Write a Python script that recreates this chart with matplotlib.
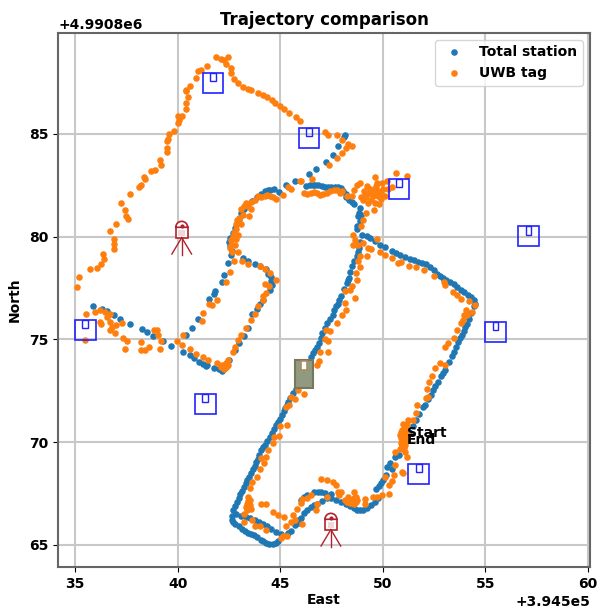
import numpy as np
import matplotlib
matplotlib.use("Agg")
import matplotlib.pyplot as plt
from matplotlib.patches import Rectangle, Wedge

X0 = 394500
Y0 = 4990800

# (east, north), relative to the axis offsets
total_station = [
    (50.2,68.8),(50.35,69.0),(50.45,68.7),(50.6,69.3),(50.8,69.4),(50.95,69.8),(51.1,70.0),(51.3,70.5),(51.45,70.8),(51.6,71.1),
    (51.75,71.35),(51.95,71.7),(52.05,71.8),(52.2,72.1),(52.35,72.3),(52.45,72.55),(52.55,72.75),(52.7,72.95),(52.85,73.2),(52.95,73.35),
    (53.05,73.5),(53.25,73.9),(53.35,74.2),(53.45,74.4),(53.55,74.65),(53.65,74.85),(53.75,75.05),(53.85,75.2),(53.95,75.4),(54.0,75.6),
    (54.1,75.75),(54.2,76.0),(54.3,76.3),(54.45,76.6),(54.5,76.7),(54.43,76.93),(54.14,77.18),(53.8,77.4),(53.45,77.7),(53.1,77.9),
    (52.8,78.1),(52.5,78.35),(52.1,78.65),(51.7,78.75),(51.35,78.9),(50.85,79.1),(50.45,79.3),(50.1,79.5),(49.85,79.6),(49.25,80.05),
    (49.0,80.1),(48.75,80.35),(48.75,80.5),(48.9,80.75),(48.85,81.15),(48.95,81.05),(48.8,81.0),(48.9,81.4),(48.6,81.6),(48.35,81.8),
    (48.2,82.05),(47.95,82.35),(47.65,82.4),(47.35,82.4),(47.05,82.45),(46.7,82.5),(46.45,82.5),(48.15,84.95),(48.1,84.85),(47.8,84.4),
    (47.55,83.95),(47.25,83.65),(46.75,83.3),(46.4,83.05),(45.7,82.7),(45.3,82.5),(44.7,82.3),(44.5,82.25),(44.25,82.2),(44.05,82.05),
    (43.85,81.9),(43.4,81.55),(43.1,81.15),(42.95,80.65),(42.8,80.4),(42.55,79.95),(42.55,79.55),(42.6,79.1),(42.45,78.7),(42.25,78.15),
    (42.15,77.8),(41.8,77.35),(41.55,76.95),(41.0,76.0),(40.7,75.55),(40.4,75.2),(40.25,74.4),(40.6,74.25),(41.05,73.9),(41.45,73.75),
    (42.0,73.55),(42.15,73.45),(35.9,76.6),(36.3,76.5),(36.55,76.4),(36.9,76.2),(37.2,76.0),(37.7,75.75),(38.25,75.5),(38.5,75.35),
    (38.8,75.15),(39.3,74.9),(39.7,74.7),(43.25,75.15),(42.8,74.5),(43.65,76.25),(44.15,76.9),(44.55,78.05),(44.6,77.65),(44.5,77.4),
    (44.3,78.4),(43.75,78.65),(43.2,78.95),(42.7,66.7),(42.9,67.1),(43.05,67.5),(43.25,67.8),(43.4,68.15),(43.6,68.5),(43.75,68.85),
    (43.9,69.2),(44.05,69.6),(44.25,69.85),(44.5,70.25),(44.7,70.65),(44.9,71.0),(45.1,71.3),(45.25,71.65),(45.4,71.95),(45.6,72.4),
    (46.5,74.15),(46.7,74.5),(46.9,74.8),(47.05,75.3),(47.3,75.8),(47.55,76.2),(47.6,76.45),(47.8,76.7),(47.95,77.1),(48.25,77.75),
    (48.35,78.0),(48.5,78.55),(48.75,79.05),(48.85,79.45),(42.65,66.2),(42.8,66.0),(43.0,65.9),(43.3,65.7),(43.6,65.55),(43.85,65.4),
    (44.05,65.25),(44.3,65.1),(44.65,65.05),(44.9,65.2),(42.85,66.5),(43.35,66.35),(43.75,66.2),(44.15,66.0),(44.55,65.8),(45.05,65.55),
    (45.55,65.7),(45.85,66.2),(45.85,66.05),(46.15,66.55),(46.5,66.85),(46.8,67.0),(47.3,67.3),(47.7,67.2),(48.2,67.0),(48.6,66.8),
    (48.9,66.7),(49.25,66.8),(49.6,67.1),(49.8,67.85),(49.65,67.7),(50.0,68.15),(50.15,68.4),(46.0,67.2),(46.3,67.45),(46.65,67.6),
    (47.0,67.6),
    # second pass over the picture, dots between the ones above
    (42.8,66.9),(42.97,67.3),(43.15,67.65),(43.33,68.0),(43.5,68.3),(43.68,68.7),(43.83,69.05),(43.98,69.4),(44.15,69.75),(44.38,70.05),
    (44.6,70.45),(44.8,70.85),(45.0,71.15),(45.18,71.5),(45.33,71.8),(45.5,72.15),(45.75,72.6),(46.6,74.35),(46.8,74.65),(46.97,75.05),
    (47.18,75.55),(47.42,76.0),(47.7,76.6),(47.88,76.9),(48.1,77.45),(48.3,77.9),(48.42,78.3),(48.62,78.8),(48.8,79.25),(48.9,79.75),
    (54.3,77.05),(53.95,77.3),(53.6,77.55),(53.3,77.8),(52.95,78.0),(52.65,78.2),(52.3,78.5),(51.9,78.7),(51.5,78.85),(51.1,79.0),
    (50.65,79.2),(49.6,79.8),(49.4,79.95),(42.65,66.4),(42.7,66.1),(43.15,65.8),(43.45,65.6),(43.7,65.5),(44.15,65.2),(44.45,65.05),
    (44.8,65.1),(43.1,66.4),(43.55,66.3),(43.95,66.1),(44.35,65.9),(44.8,65.65),(45.4,65.6),(45.7,65.95),(46.0,66.3),(46.3,66.7),
    (46.65,66.95),(47.05,67.15),(47.5,67.3),(47.95,67.1),(48.4,66.9),(48.75,66.7),(49.05,66.7),(49.45,66.95),(49.75,67.3),(49.9,68.0),
    (46.15,67.35),(46.85,67.6),(47.2,67.55),(47.5,67.5),(48.5,81.7),(48.2,81.9),(48.05,82.2),(47.8,82.4),(47.5,82.4),(47.2,82.4),
    (46.85,82.5),(46.6,82.5),(46.25,82.45),(44.95,82.15),(44.4,82.25),(43.65,81.75),(43.25,81.35),(43.0,80.85),(42.7,80.15),(42.5,79.75),
    (42.65,79.3),(41.75,77.2),(40.8,74.1),(41.25,73.8),(41.75,73.6),(41.4,73.7),(43.0,74.8),(43.45,75.55),(43.85,76.5),(44.0,76.7),
    (42.5,74.0),(42.3,73.7),(44.0,78.55),(44.4,78.2),(44.55,77.85),(43.45,78.8),
]

uwb_tag = [
    (35.1,77.55),(35.2,78.05),(35.75,78.4),(36.05,78.45),(36.25,78.65),(36.4,78.9),(36.35,79.15),(36.9,79.4),(36.9,79.65),(36.9,79.9),
    (36.7,80.25),(37.0,80.6),(37.6,80.85),(37.5,81.0),(37.45,81.3),(37.25,81.65),(37.7,82.05),(38.1,82.4),(38.2,82.5),(38.4,82.8),
    (38.35,82.9),(38.7,83.2),(38.9,83.25),(39.2,83.5),(39.15,83.7),(39.5,84.1),(39.5,84.3),(39.5,84.65),(39.55,84.75),(39.6,85.0),
    (39.8,85.15),(40.0,85.5),(40.05,85.65),(40.0,85.85),(40.2,85.85),(40.4,86.2),(40.4,86.5),(40.5,86.8),(40.4,87.1),(40.4,87.15),
    (40.6,87.3),(40.9,87.7),(41.0,88.05),(41.15,88.1),(41.45,88.3),(41.85,88.75),(42.1,88.65),(42.25,88.6),(42.45,88.75),(42.35,88.4),
    (42.6,88.2),(42.6,87.95),(42.75,87.65),(42.95,87.45),(43.2,87.25),(43.45,87.2),(43.6,87.15),(43.9,87.0),(44.15,86.9),(44.35,86.8),
    (44.6,86.65),(44.75,86.5),(45.0,86.35),(45.2,86.2),(45.45,86.0),(45.75,85.8),(45.95,85.6),(47.2,85.1),(47.35,84.95),(47.75,84.95),
    (48.0,84.7),(48.3,84.5),(48.5,84.4),(48.2,84.3),(48.0,84.05),(47.75,83.8),(47.4,83.5),(46.55,82.8),(46.0,82.7),
    (46.15,82.1),(46.5,82.1),(46.8,82.1),(47.1,82.05),(47.45,82.2),(47.75,82.25),(48.0,82.2),(48.25,81.95),(48.5,81.95),(48.6,82.25),
    (48.75,82.5),(48.9,82.6),(49.25,82.45),(49.6,82.9),(50.65,83.1),(51.2,82.95),(49.35,82.1),(49.5,81.95),(49.75,82.2),(50.0,82.3),
    (50.1,81.95),(49.95,82.6),(50.2,82.7),(49.05,81.8),(49.3,81.65),(49.6,81.65),(49.55,81.3),(49.2,81.15),(49.05,80.8),(48.95,80.5),
    (48.55,80.1),(48.65,79.85),(48.55,79.6),(48.8,79.6),(49.05,79.7),(49.3,79.45),(49.7,79.9),(49.45,79.4),(49.85,79.25),(50.1,79.1),
    (50.45,78.95),(50.75,78.7),(50.9,78.75),(51.3,78.55),(51.6,78.5),(52.0,78.35),(52.5,78.1),(53.0,77.8),(53.05,77.65),(53.4,77.3),
    (53.6,77.15),(48.9,79.05),(49.25,79.05),(48.8,78.8),(48.9,78.5),(48.7,78.25),(48.75,77.9),(48.5,77.6),(48.4,77.4),(48.15,77.35),
    (49.1,82.2),(48.95,81.9),(49.2,81.9),(49.4,82.3),(49.65,82.45),(49.9,81.85),(50.25,82.3),(49.8,81.6),(49.7,82.6),(50.45,82.4),
    (45.95,82.7),(45.55,82.3),(45.4,82.4),(45.15,82.0),(44.8,81.85),(44.5,81.95),(44.25,81.95),(43.9,81.95),(43.6,81.7),(43.35,81.65),
    (43.6,81.35),(43.1,81.35),(43.2,81.05),(43.5,81.0),(42.85,80.6),(42.85,80.35),(43.1,80.6),(42.95,80.1),(42.7,80.0),(42.6,79.6),
    (42.8,79.6),(42.65,79.25),(42.95,79.25),(42.75,78.8),(43.15,78.8),(43.45,78.65),(44.0,78.55),(44.25,78.4),(44.5,78.25),(44.8,77.9),
    (44.25,77.7),(44.45,77.6),(44.3,77.25),(44.15,77.1),(42.55,78.3),(42.35,77.8),
    (41.9,76.9),(41.55,76.7),(41.7,76.65),(41.25,76.3),(41.2,75.9),(44.15,76.9),(43.9,76.6),(43.75,76.25),(43.6,75.95),(43.35,75.55),
    (43.1,75.2),(42.95,74.95),(42.8,74.65),(42.7,74.4),(42.45,74.0),(42.35,73.65),(42.3,73.6),(42.15,73.75),(41.9,73.85),(41.5,74.0),
    (41.25,74.15),(40.9,74.3),(40.6,74.55),(40.25,75.2),(40.2,74.75),(39.95,74.9),(35.55,76.25),(35.95,76.35),(36.2,76.45),(36.45,76.35),
    (36.7,76.25),(36.55,76.1),(36.2,75.85),(36.25,75.75),(36.7,75.85),(36.8,75.6),(36.7,75.45),(36.95,75.3),(37.0,75.7),(37.3,75.8),
    (37.35,75.05),(37.55,74.9),(37.45,74.55),(38.2,74.85),(38.2,74.5),(38.4,74.5),(38.6,74.65),(38.85,75.45),(39.0,75.45),(39.05,75.2),
    (39.2,74.9),(39.15,74.55),(35.5,74.95),
    (45.35,70.85),(45.0,70.8),(44.95,70.3),(44.7,70.25),(44.65,69.95),(44.4,69.6),(44.3,69.3),(44.05,69.25),(44.2,69.0),(44.0,68.7),
    (43.85,68.3),(43.65,68.05),(43.55,67.75),(43.45,67.35),(43.5,67.0),(43.35,66.85),(43.6,66.75),(43.25,66.5),(44.05,67.0),(44.3,67.0),
    (44.65,66.6),(44.9,66.45),(45.2,66.35),(45.6,66.45),(45.8,66.75),(45.55,66.1),(45.7,66.2),(45.3,65.9),(45.15,65.45),(45.05,65.35),
    (45.35,65.45),(44.3,65.75),(44.0,65.9),(43.75,65.9),(43.65,66.2),(43.25,66.1),(45.55,72.2),(45.3,71.7),(45.45,71.8),(45.7,72.1),
    (45.85,72.55),(46.15,72.35),(46.8,73.75),(46.9,73.95),(46.95,74.4),(47.35,74.4),(47.2,75.0),(47.35,74.9),(47.25,75.45),(47.45,75.4),
    (47.75,75.8),(48.0,76.2),(48.2,76.45),(48.15,76.75),(48.65,77.0),
    (51.0,68.5),(50.95,68.55),(51.2,69.3),(51.1,69.5),(50.6,68.9),(50.55,68.4),(50.1,68.3),(50.45,68.1),(50.3,67.9),(50.3,67.5),
    (49.95,67.45),(49.7,67.35),(49.5,67.35),(49.15,67.25),(49.15,67.0),(51.0,70.4),(50.9,70.2),(51.05,70.0),(50.95,69.8),(51.1,70.2),
    (50.9,69.95),(51.2,70.45),(50.95,70.6),(51.1,70.75),(51.2,70.9),(50.85,70.35),(51.05,70.5),(51.15,70.1),(51.0,70.9),(51.1,69.85),
    (50.85,69.65),(50.6,69.5),(51.45,71.1),(51.25,71.1),(51.6,71.4),(51.65,71.8),(52.1,72.15),(52.2,72.2),(52.15,72.6),(52.25,72.95),
    (52.4,73.2),(52.55,73.6),(52.8,73.85),(53.05,73.75),(53.05,74.65),(53.2,74.8),(53.45,75.05),(53.6,75.45),(53.8,75.8),(53.9,75.95),
    (53.95,76.2),(54.1,76.2),(54.05,76.45),(54.35,76.35),(54.5,76.65),(53.8,76.95),(54.2,76.85),
    (47.0,68.2),(47.3,68.15),(47.55,68.05),(47.7,67.9),(47.8,67.6),(47.95,67.6),(47.85,67.45),(47.3,67.35),(46.8,67.0),(46.75,66.7),
    (46.05,67.25),(46.0,67.05),(46.3,67.3),(46.5,67.45),(46.05,66.0),(48.15,67.2),(48.3,67.35),(48.6,67.6),(48.4,67.05),(48.75,67.2),
    (48.6,67.3),(48.6,67.0),(48.35,67.25),(48.7,67.35),
    # second pass, the crowded places
    (46.3,82.05),(46.65,82.15),(46.95,82.0),(47.3,82.1),(47.6,82.25),(47.9,82.1),(44.65,81.9),(44.35,82.0),(44.05,81.9),(43.75,81.8),
    (43.45,81.5),(43.25,81.5),(49.45,81.8),(49.5,82.1),(49.75,81.95),(49.9,82.1),(49.6,82.3),(49.15,82.0),(43.0,80.9),(42.9,80.8),
    (42.85,79.9),(42.75,80.15),(42.6,79.85),(42.55,79.45),(42.4,73.7),(42.25,73.55),(42.35,73.85),(42.45,73.75),(42.1,73.65),(43.45,67.15),
    (43.55,67.2),(43.4,67.0),(43.55,66.95),(43.4,66.7),(43.5,66.8),(48.4,67.15),(48.5,67.2),(48.6,67.15),(48.25,67.1),(48.5,67.05),
    (48.7,67.1),(51.05,70.25),(50.95,70.3),(51.0,70.15),(51.1,70.4),(50.9,70.5),(51.05,69.7),(50.95,70.05),
]

anchors = [(41.72,87.45),(46.4,84.8),(50.8,82.3),(57.1,80.0),(55.5,75.35),(51.75,68.45),(35.5,75.45),(41.35,71.85)]
stations = [(40.2,79.95),(47.47,65.75)]
start_pos = (51.2,70.25)
end_pos = (51.15,69.9)

plt.rcParams["font.weight"] = "bold"
plt.rcParams["axes.titleweight"] = "bold"
plt.rcParams["axes.labelweight"] = "bold"
plt.rcParams["font.size"] = 10

fig = plt.figure(figsize=(5.97, 6.09), dpi=100)
ax = fig.add_axes([58/597, 1-567/609, 532/597, 534/609])

total = np.array(total_station) + [X0, Y0]
uwb = np.array(uwb_tag) + [X0, Y0]
ax.plot(total[:, 0], total[:, 1], "o", ms=3.7, color="#1f77b4", label="Total station", zorder=3)
ax.plot(uwb[:, 0], uwb[:, 1], "o", ms=3.7, color="#ff7f0e", label="UWB tag", zorder=3)


def box(x, y, edge):
    # anchor symbol, a square with a small notch at the top
    ax.add_patch(Rectangle((X0+x-0.5, Y0+y-0.48), 1.0, 0.97, fc="none", ec=edge, lw=1.2, zorder=4))
    ax.add_patch(Rectangle((X0+x-0.14, Y0+y+0.1), 0.28, 0.39, fc="none", ec=edge, lw=1.0, zorder=4))


for a in anchors:
    box(a[0], a[1], "#2222ff")

# the tag base, filled box
ax.add_patch(Rectangle((X0+45.7, Y0+72.65), 0.9, 1.35, fc="#8f9a80", ec="#77775f", lw=1.5, zorder=5))
ax.add_patch(Rectangle((X0+46.0, Y0+73.5), 0.32, 0.47, fc="white", ec="#b08a60", lw=1.2, zorder=6))

for s in stations:
    x = X0+s[0]
    y = Y0+s[1]
    red = "#b2222c"
    ax.add_patch(Rectangle((x-0.29, y), 0.58, 0.5, fc="white", ec=red, lw=1.2, zorder=4))
    ax.add_patch(Wedge((x, y+0.5), 0.29, 0, 180, fc="white", ec=red, lw=1.2, zorder=4))
    ax.add_patch(Rectangle((x-0.16, y+0.1), 0.32, 0.25, fc="#f0d8d8", ec="none", zorder=5))
    ax.plot([x], [y+0.55], "o", ms=2, color=red, zorder=5)
    ax.plot([x, x], [y, y-0.85], color=red, lw=1.0, zorder=4)
    ax.plot([x, x-0.48], [y, y-0.8], color=red, lw=1.0, zorder=4)
    ax.plot([x, x+0.48], [y, y-0.8], color=red, lw=1.0, zorder=4)

ax.text(X0+start_pos[0], Y0+start_pos[1], "Start", fontsize=10, zorder=7)
ax.text(X0+end_pos[0], Y0+end_pos[1], "End", fontsize=10, zorder=7)

ax.set_xlim(X0+34.17, X0+60.1)
ax.set_ylim(Y0+63.93, Y0+89.9)
ax.set_xticks([X0+v for v in [35, 40, 45, 50, 55, 60]])
ax.set_yticks([Y0+v for v in [65, 70, 75, 80, 85]])
ax.grid(True, color="#c8c8c8", lw=1.5)
ax.set_axisbelow(True)
for sp in ax.spines.values():
    sp.set_color("#666666")
    sp.set_linewidth(1.5)

ax.set_title("Trajectory comparison", fontsize=12, pad=6)
ax.set_xlabel("East", labelpad=2)
ax.set_ylabel("North", labelpad=5)
ax.legend(loc="upper right")

fig.savefig("out.png", dpi=100)
